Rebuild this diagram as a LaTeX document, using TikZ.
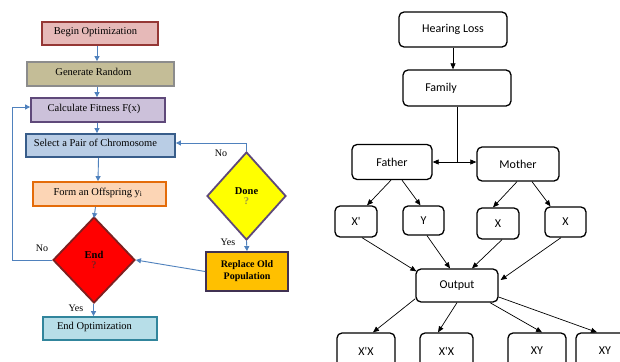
\documentclass[tikz,border=0pt]{standalone}
\usepackage{fontspec}
\setmainfont{Liberation Serif}
\newfontfamily\calibri{Carlito}
\usetikzlibrary{shapes.geometric,arrows.meta}

\definecolor{flowline}{HTML}{4F81BD}
\definecolor{beginfill}{HTML}{E6B9B8}\definecolor{begindraw}{HTML}{953735}
\definecolor{genfill}{HTML}{C4BD97}\definecolor{gendraw}{HTML}{8C8C8C}
\definecolor{calcfill}{HTML}{CCC1DA}\definecolor{calcdraw}{HTML}{5F497A}
\definecolor{selfill}{HTML}{B9CDE5}\definecolor{seldraw}{HTML}{385D8A}
\definecolor{formfill}{HTML}{FCD5B5}\definecolor{formdraw}{HTML}{E46C0A}
\definecolor{endfill}{HTML}{B7DEE8}\definecolor{enddraw}{HTML}{31859C}
\definecolor{donefill}{HTML}{FFFF00}\definecolor{donedraw}{HTML}{5F497A}
\definecolor{stopfill}{HTML}{FF0000}\definecolor{stopdraw}{HTML}{7F1F1F}
\definecolor{replfill}{HTML}{FFC000}\definecolor{repldraw}{HTML}{403152}

\tikzset{
  procbox/.style={rectangle, line width=1.8pt, inner sep=0pt,
    font=\fontsize{10.5}{12}\selectfont, text height=7pt, text depth=5pt},
  decbox/.style={diamond, line width=1.8pt, inner sep=0pt, align=center,
    font=\fontsize{10.5}{11.5}\selectfont\bfseries},
  flow/.style={draw=flowline, line width=0.9pt,
    -{Triangle[length=5pt,width=5pt]}},
  flowlabel/.style={font=\fontsize{10}{12}\selectfont},
  gbox/.style={rectangle, rounded corners=5pt, draw=black, line width=1.3pt,
    inner sep=0pt, font=\calibri\fontsize{12}{14}\selectfont},
  garrow/.style={draw=black, line width=0.7pt,
    -{Triangle[length=6pt,width=5pt]}}
}

\begin{document}
\begin{tikzpicture}[x=1pt,y=-1pt]
\useasboundingbox[fill=white] (0,0) rectangle (620,361);
\clip (0,0) rectangle (620,361);

% ---------- genetic algorithm flowchart ----------
\node[procbox, fill=beginfill, draw=begindraw, minimum width=116pt, minimum height=23pt]
  (begin) at (100,33.5) {Begin Optimization\hspace*{9pt}};
\node[procbox, fill=genfill, draw=gendraw, minimum width=147pt, minimum height=24pt]
  (gen) at (100.5,74) {Generate Random\hspace*{14pt}};
\node[procbox, fill=calcfill, draw=calcdraw, minimum width=134pt, minimum height=24pt]
  (calc) at (98,110) {Calculate Fitness F(x)\hspace*{8pt}};
\node[procbox, fill=selfill, draw=seldraw, minimum width=149pt, minimum height=23pt]
  (sel) at (100.5,145.5) {Select a Pair of Chromosome\hspace*{10pt}};
\node[procbox, fill=formfill, draw=formdraw, minimum width=133pt, minimum height=24pt]
  (form) at (99.5,194) {Form an Offspring y\textsubscript{i}\hspace*{3pt}};
\node[decbox, fill=stopfill, draw=stopdraw, minimum width=82pt, minimum height=86pt]
  (stop) at (94,260) {End\\[-1pt]\textcolor{stopdraw}{?}};
\node[decbox, fill=donefill, draw=donedraw, minimum width=79pt, minimum height=88pt]
  (done) at (246.5,196) {Done\\[-1pt]\textcolor{black!45!yellow}{?}};
\node[procbox, fill=replfill, draw=repldraw, minimum width=82pt, minimum height=39pt,
  align=center, text height=, text depth=, font=\fontsize{10}{12}\selectfont\bfseries]
  (repl) at (247,271.5) {Replace Old\\Population};
\node[procbox, fill=endfill, draw=enddraw, minimum width=114pt, minimum height=23pt]
  (endopt) at (100,328.5) {End Optimization\hspace*{11pt}};

\coordinate (axis) at (97,0);
\coordinate (loopx) at (12,0);
\draw[flow] (begin.south -| axis) -- (gen.north -| axis);
\draw[flow] (gen.south -| axis) -- (calc.north -| axis);
\draw[flow] (calc.south -| axis) -- (sel.north -| axis);
\draw[flow] ([xshift=-2pt]sel.south) -- ([xshift=-1.5pt]form.north);
\draw[flow] ([xshift=-4pt]form.south) -- ([yshift=-2pt]stop.north);
\draw[flow] ([xshift=-0.5pt]stop.south) -- ([xshift=-6.5pt]endopt.north);
\draw[flow] (stop.west) -- (stop.west -| loopx) |- ([yshift=3pt]calc.west);
\draw[flow] (done.north) |- ([yshift=2.5pt]sel.east);
\draw[flow] (done.south) -- (repl.north);
\draw[flow] (repl.west) -- (stop.east);

\node[flowlabel] (nostop) at (42,248) {No};
\node[flowlabel] (yesstop) at (76,308) {Yes};
\node[flowlabel] (nodone) at (221,153) {No};
\node[flowlabel] (yesdone) at (228,242) {Yes};

% ---------- inheritance tree ----------
\node[gbox, minimum width=108pt, minimum height=35pt] (hl) at (453,29.5) {Hearing Loss};
\node[gbox, minimum width=108pt, minimum height=36pt] (fam) at (457,88) {Family\hspace*{32pt}};
\node[gbox, minimum width=80pt, minimum height=35pt] (fa) at (392,162) {Father};
\node[gbox, minimum width=82pt, minimum height=34pt] (mo) at (518,164) {Mother};
\node[gbox, minimum width=42pt, minimum height=31pt] (xp) at (356,221.5) {X'};
\node[gbox, minimum width=41pt, minimum height=29pt] (yy) at (423.5,220.5) {Y};
\node[gbox, minimum width=42pt, minimum height=31pt] (xa) at (498,223.5) {X};
\node[gbox, minimum width=41pt, minimum height=30pt] (xb) at (565.5,222) {X};
\node[gbox, minimum width=82pt, minimum height=33pt] (out) at (457,285.5) {Output};
\node[gbox, minimum width=58pt, minimum height=36pt] (oa) at (366,351) {X'X};
\node[gbox, minimum width=53pt, minimum height=36pt] (ob) at (446.5,351) {X'X};
\node[gbox, minimum width=58pt, minimum height=36pt] (oc) at (537,351) {XY};
\node[gbox, minimum width=58pt, minimum height=36pt] (od) at (605,351) {XY};

\draw[garrow] (hl.south) -- (hl.south |- fam.north);
\coordinate (split) at (fam.south |- fa.east);
\draw[draw=black, line width=0.7pt] (fam.south) -- (split);
\draw[garrow] (split) -- (fa.east);
\draw[garrow] (split) -- (mo.west |- split);

\draw[garrow] ([xshift=-1pt]fa.south) -- ([xshift=11pt]xp.north);
\draw[garrow] ([xshift=10pt]fa.south) -- ([xshift=-3pt]yy.north);
\draw[garrow] ([xshift=-1pt]mo.south) -- ([xshift=-5pt]xa.north);
\draw[garrow] ([xshift=14pt]mo.south) -- ([xshift=-15pt]xb.north);

\draw[garrow] ([xshift=6pt]xp.south) -- ([xshift=1pt,yshift=-3pt]out.north west);
\draw[garrow] ([xshift=3.5pt]yy.south) -- ([xshift=-7pt]out.north);
\draw[garrow] ([xshift=4pt]xa.south) -- ([xshift=15pt]out.north);
\draw[garrow] ([xshift=-4.5pt]xb.south) -- ([xshift=2pt,yshift=5.5pt]out.east);

\draw[garrow] ([yshift=4pt]out.south west) -- ([xshift=7pt]oa.north);
\draw[garrow] (out.south) -- ([xshift=-8.5pt]ob.north);
\draw[garrow] ([xshift=33pt]out.south) -- ([xshift=5pt]oc.north);
\draw[garrow] ([yshift=-11.5pt]out.east) -- ([xshift=-8pt]od.north);
\end{tikzpicture}
\end{document}
